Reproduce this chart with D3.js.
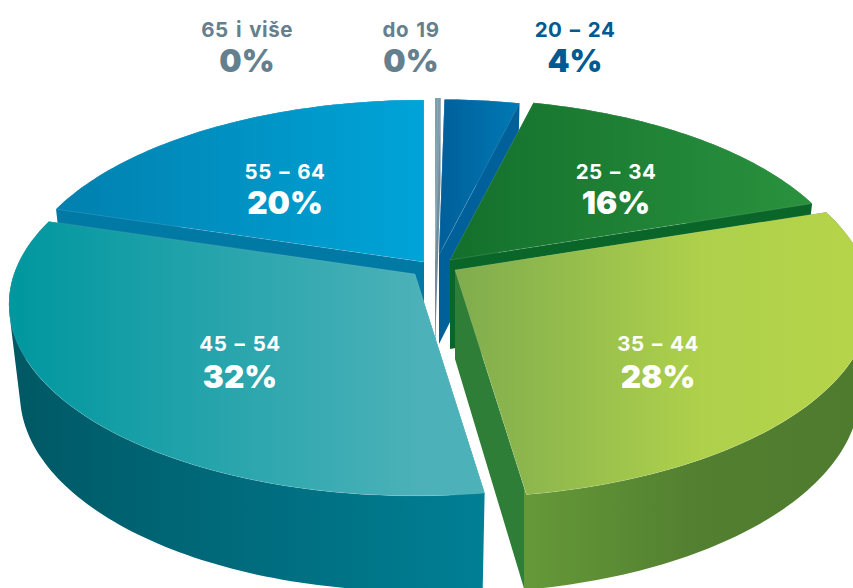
<!DOCTYPE html>
<html><head><meta charset="utf-8">
<script src="https://cdn.jsdelivr.net/npm/d3@7"></script>
<style>html,body{margin:0;background:#fff}svg{display:block}
text{font-family:Inter,"Open Sans",sans-serif;text-anchor:middle}</style></head>
<body><svg id="c" width="853" height="588"></svg>
<script>
// Data (clockwise from 12 o'clock). Drawn shares.
const categories = ["65 i više","do 19","20 – 24","25 – 34","35 – 44","45 – 54","55 – 64"];
const values = [0.13,0.13,3.6,16,27.8,32.1,20.24];

// Styling and layout, per slice, kept apart from the data
const anchors = [[435,260],[435,260],[439,255],[450,260],[455,270],[415,274],[424,262]];
const radiusScale = [1,1,0.96,0.995,1.02,0.995,1];
const topStops = [
 [[434,"#7a9bab"],[441,"#7a9bab"]],
 [[434,"#7a9bab"],[441,"#7a9bab"]],
 [[443,"#00609b"],[518,"#0079b4"]],
 [[451,"#13702c"],[811,"#2a923e"]],
 [[453,"#7fac4e"],[700,"#aed04b"],[853,"#b5d44a"]],
 [[10,"#00979f"],[420,"#4cb1b8"]],
 [[56,"#0180ae"],[424,"#00a4d8"]]];
const wallStops = [
 [[434,"#6f8f9e"],[441,"#6f8f9e"]],
 [[434,"#6f8f9e"],[441,"#6f8f9e"]],
 [[440,"#00609a"],[520,"#00609a"]],
 [[451,"#0a6628"],[811,"#0a6628"]],
 [[453,"#2f7e37"],[524,"#2f7e37"],[524.5,"#659938"],[700,"#527f30"],[853,"#4f7b2e"]],
 [[10,"#005864"],[484,"#007f95"]],
 [[56,"#0079a5"],[424,"#0079a5"]]];
const labelPos = [[247,37,72],[411,37,72],[575,37,72],[616,179,214],[658,351,388],[240,351,388],[285,179,214]];
const labelColors = ["#64808f","#64808f","#005a92","#fff","#fff","#fff","#fff"];
const drawOrder = [0,1,2,6,3,5,4];

// Perspective of the tilted disc
const topPlane = {R:403, Ry:187.7, dy:0};
const botPlane = {R:392, Ry:193, dy:89};
const persp = 0.158;
const project = (phi, rs, plane, a) => {
  const s = 1/(1 + persp*Math.cos(phi));
  return [a[0] + rs*plane.R*Math.sin(phi)*s,
          a[1] + plane.dy - rs*plane.Ry*Math.cos(phi)*s];
};

const svg = d3.select("#c");
const defs = svg.append("defs");
const grad = (id, stops) => {
  const xs = d3.scaleLinear().domain([stops[0][0], stops[stops.length-1][0]]).range([0,1]);
  defs.append("linearGradient").attr("id",id).attr("gradientUnits","userSpaceOnUse")
    .attr("x1",stops[0][0]).attr("x2",stops[stops.length-1][0]).attr("y1",0).attr("y2",0)
    .selectAll("stop").data(stops).join("stop")
    .attr("offset",d=>xs(d[0])).attr("stop-color",d=>d[1]);
};

const arcs = d3.pie().sort(null).startAngle(0).endAngle(2*Math.PI)(values);
const line = d3.line();
// same winding for every quad, so one nonzero-filled path is a seamless union
const oriented = q => d3.polygonArea(q) < 0 ? q.slice().reverse() : q;

drawOrder.forEach(i => {
  const a = arcs[i], anc = anchors[i], rs = radiusScale[i];
  grad("t"+i, topStops[i]); grad("w"+i, wallStops[i]);
  const n = Math.max(2, Math.ceil((a.endAngle-a.startAngle)/0.02));
  const phis = d3.range(n+1).map(k => a.startAngle + (a.endAngle-a.startAngle)*k/n);
  const topArc = phis.map(p => project(p, rs, topPlane, anc));
  const botArc = phis.map(p => project(p, rs, botPlane, anc));
  const aT = project(0, 0, topPlane, anc), aB = project(0, 0, botPlane, anc);
  const quads = d3.range(n).map(k => [topArc[k],topArc[k+1],botArc[k+1],botArc[k]]);
  quads.push([aT, topArc[0], botArc[0], aB]);
  quads.push([aT, topArc[n], botArc[n], aB]);
  const g = svg.append("g");
  g.append("path")
    .attr("d", quads.map(q => line(oriented(q))+"Z").join(""))
    .attr("fill-rule","nonzero").attr("fill",`url(#w${i})`);
  g.append("path").attr("d", line([aT,...topArc])+"Z")
    .attr("fill",`url(#t${i})`)
    .attr("stroke","rgba(255,255,255,0.25)").attr("stroke-width",0.5);
});

categories.forEach((c,i) => {
  const [x,y1,y2] = labelPos[i];
  svg.append("text").attr("x",x).attr("y",y1).attr("font-size",20.5)
    .attr("font-weight",700).attr("letter-spacing",0.5).attr("word-spacing",2)
    .attr("fill",labelColors[i]).text(c);
  svg.append("text").attr("x",x).attr("y",y2).attr("font-size",31.5)
    .attr("font-weight",900).attr("fill",labelColors[i]).text(Math.round(values[i])+"%");
});
</script></body></html>
